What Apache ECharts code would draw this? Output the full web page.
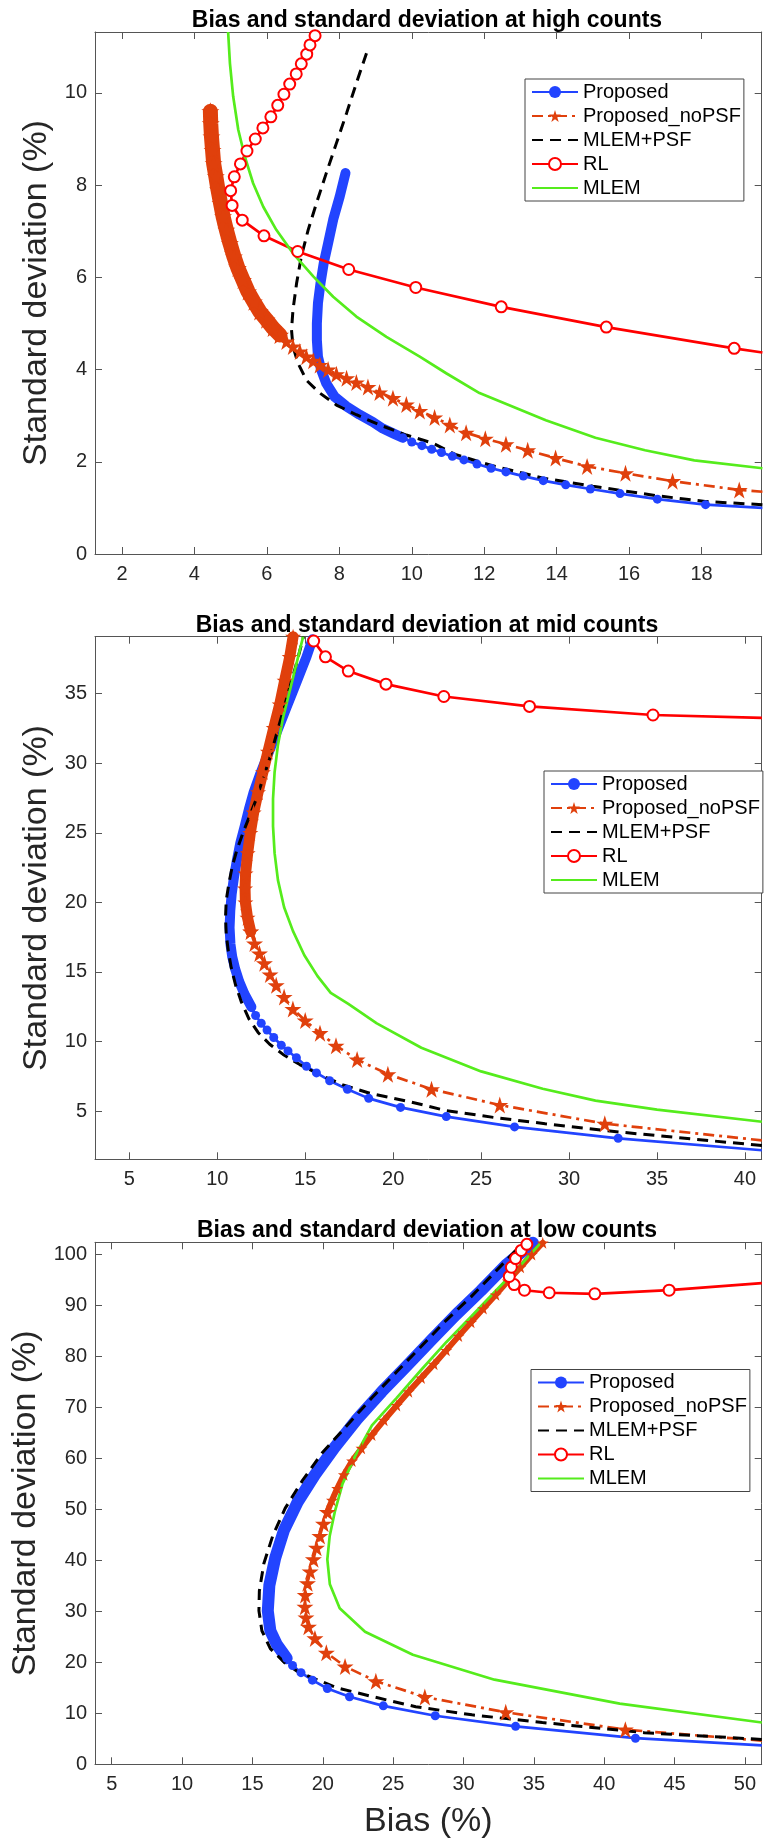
<!DOCTYPE html>
<html><head><meta charset="utf-8">
<script src="https://cdn.jsdelivr.net/npm/echarts@6/dist/echarts.min.js"></script>
<style>html,body{margin:0;padding:0;background:#fff}#c{width:777px;height:1840px}</style>
</head><body><div id="c"></div>
<script>
// ---------- Data ----------
const seriesNames = ['Proposed', 'Proposed_noPSF', 'MLEM+PSF', 'RL', 'MLEM'];
const panelTitles = [
  'Bias and standard deviation at high counts',
  'Bias and standard deviation at mid counts',
  'Bias and standard deviation at low counts'
];
const xAxisName = 'Bias (%)';
const yAxisName = 'Standard deviation (%)';

const highXTicks = [2, 4, 6, 8, 10, 12, 14, 16, 18];
const highYTicks = [0, 2, 4, 6, 8, 10];
const midXTicks = [5, 10, 15, 20, 25, 30, 35, 40];
const midYTicks = [5, 10, 15, 20, 25, 30, 35];
const lowXTicks = [5, 10, 15, 20, 25, 30, 35, 40, 45, 50];
const lowYTicks = [0, 10, 20, 30, 40, 50, 60, 70, 80, 90, 100];

// ---- high counts ----
const highProposed = [[19.68,1.0],[18.11,1.07],[16.78,1.19],[15.75,1.31],[14.93,1.41],[14.25,1.5],[13.63,1.59],[13.08,1.69],[12.6,1.78],[12.19,1.86],[11.8,1.95],[11.44,2.04],[11.12,2.12],[10.82,2.2],[10.55,2.27],[10.28,2.35],[10.0,2.43],[9.75,2.52]];
const highProposedDense = [[9.75,2.52],[9.5,2.61],[9.2,2.72],[8.93,2.86],[8.56,3.02],[8.2,3.2],[7.87,3.41],[7.64,3.7],[7.5,3.99],[7.41,4.28],[7.38,4.64],[7.38,5.0],[7.41,5.44],[7.48,5.87],[7.57,6.31],[7.69,6.74],[7.83,7.25],[8.01,7.75],[8.17,8.26]];
const highNoPsf = [[19.68,1.35],[19.04,1.39],[17.2,1.58],[15.9,1.75],[14.84,1.9],[13.97,2.08],[13.2,2.25],[12.6,2.38],[12.03,2.5],[11.5,2.63],[11.05,2.8],[10.63,2.96],[10.22,3.1],[9.85,3.24],[9.48,3.38],[9.11,3.5],[8.79,3.62],[8.47,3.72],[8.2,3.81],[7.92,3.9],[7.69,4.0],[7.46,4.1],[7.28,4.19],[7.09,4.28],[6.91,4.39],[6.72,4.5],[6.54,4.61],[6.36,4.75]];
const highNoPsfDense = [[6.36,4.75],[6.17,4.9],[5.99,5.08],[5.8,5.26],[5.64,5.47],[5.48,5.69],[5.34,5.94],[5.2,6.2],[5.09,6.45],[4.98,6.74],[4.88,7.03],[4.79,7.32],[4.72,7.61],[4.65,7.9],[4.59,8.19],[4.53,8.47],[4.5,8.76],[4.47,9.05],[4.45,9.34],[4.44,9.6]];
const highMlemPsf = [[19.68,1.07],[18.1,1.14],[16.8,1.26],[15.0,1.47],[13.6,1.65],[12.2,1.92],[11.2,2.16],[10.59,2.4],[9.85,2.58],[9.11,2.8],[8.47,3.02],[7.92,3.23],[7.46,3.49],[7.09,3.77],[6.86,4.14],[6.72,4.5],[6.68,4.86],[6.72,5.29],[6.82,5.87],[6.95,6.45],[7.14,7.03],[7.37,7.61],[7.64,8.26],[7.92,8.91],[8.2,9.56],[8.47,10.21],[8.75,10.86]];
const highRl = [[19.68,4.37],[18.9,4.46],[15.37,4.92],[12.47,5.36],[10.11,5.78],[8.26,6.17],[6.85,6.56],[5.92,6.9],[5.32,7.24],[5.04,7.56],[5.0,7.88],[5.1,8.18],[5.27,8.46],[5.45,8.74],[5.68,9.0],[5.89,9.24],[6.11,9.48],[6.3,9.73],[6.47,9.97],[6.63,10.19],[6.81,10.41],[6.95,10.63],[7.1,10.84],[7.19,11.04],[7.33,11.24]];
const highMlem = [[19.68,1.86],[17.8,2.03],[16.44,2.25],[15.07,2.52],[13.7,2.9],[11.87,3.49],[10.95,3.92],[10.22,4.28],[9.3,4.71],[8.47,5.15],[7.83,5.58],[7.28,6.02],[6.72,6.52],[6.26,7.03],[5.9,7.53],[5.62,8.04],[5.39,8.62],[5.21,9.2],[5.07,9.92],[4.98,10.64],[4.93,11.32]];

// ---- mid counts ----
const midProposed = [[40.96,2.18],[32.79,3.04],[26.9,3.86],[23.02,4.6],[20.42,5.26],[18.61,5.91],[17.4,6.57],[16.39,7.18],[15.64,7.74],[15.07,8.22],[14.5,8.83],[14.02,9.32],[13.64,9.73],[13.21,10.29],[12.83,10.82],[12.5,11.31],[12.18,11.87],[11.94,12.48]];
const midProposedDense = [[11.94,12.48],[11.55,13.4],[11.25,14.3],[11.02,15.2],[10.85,16.1],[10.75,17.0],[10.7,18.2],[10.74,19.4],[10.82,20.6],[10.95,21.8],[11.12,23.05],[11.31,24.27],[11.56,25.48],[11.8,26.7],[12.07,27.92],[12.41,29.13],[12.79,30.35],[13.17,31.56],[13.55,32.78],[13.93,34.0],[14.31,35.21],[14.69,36.43],[15.07,37.64],[15.41,38.91]];
const midNoPsf = [[40.96,2.89],[32.03,4.09],[26.06,5.43],[22.18,6.57],[19.7,7.65],[17.95,8.7],[16.75,9.7],[15.84,10.6],[15.0,11.5],[14.3,12.34],[13.8,13.2],[13.35,14.05],[13.0,14.82],[12.68,15.62],[12.4,16.33],[12.12,17.04],[11.9,17.9]];
const midNoPsfDense = [[11.9,17.9],[11.72,18.9],[11.6,20.0],[11.58,21.0],[11.61,22.08],[11.73,23.54],[11.88,25.0],[12.07,26.46],[12.32,27.92],[12.6,29.37],[12.88,30.83],[13.21,32.54],[13.55,34.24],[13.83,35.94],[14.12,37.64],[14.31,39.1]];
const midMlemPsf = [[40.96,2.52],[37.1,2.98],[32.87,3.49],[28.64,4.09],[25.83,4.52],[23.01,5.03],[20.95,5.67],[18.67,6.28],[17.15,6.88],[15.83,7.61],[14.69,8.34],[13.74,9.07],[12.98,9.8],[12.32,10.65],[11.8,11.63],[11.37,12.84],[11.04,14.06],[10.8,15.27],[10.63,16.49],[10.51,17.7],[10.47,18.92],[10.51,20.14],[10.66,21.35],[10.85,22.57],[11.12,23.78],[11.46,25.0],[11.84,26.21],[12.22,27.43],[12.6,28.89],[12.98,30.35],[13.36,32.05],[13.74,33.75],[14.12,35.45],[14.5,37.15],[14.9,39.1]];
const midRl = [[40.96,33.27],[34.77,33.47],[27.75,34.09],[22.88,34.8],[19.59,35.69],[17.45,36.63],[16.15,37.65],[15.48,38.79]];
const midMlem = [[40.96,4.23],[35.0,5.1],[31.5,5.75],[28.5,6.6],[25.0,7.85],[21.6,9.55],[19.07,11.3],[17.45,12.7],[16.45,13.5],[15.7,14.7],[14.95,16.2],[14.3,17.95],[13.8,19.65],[13.45,21.6],[13.26,23.54],[13.17,25.48],[13.17,27.43],[13.26,29.37],[13.45,31.32],[13.74,33.27],[14.12,35.21],[14.5,37.15],[14.88,39.1]];

// ---- low counts ----
const lowProposed = [[51.2,3.72],[42.22,5.12],[33.7,7.44],[27.99,9.53],[24.3,11.47],[21.9,13.26],[20.32,14.88],[19.26,16.51],[18.45,17.98],[17.85,19.38],[17.43,20.8]];
const lowProposedDense = [[17.43,20.8],[16.73,23.5],[16.27,26.2],[16.09,30.1],[16.2,35.1],[16.62,40.5],[17.25,46.0],[18.2,51.4],[19.44,56.8],[20.85,62.2],[22.43,67.7],[24.19,73.1],[25.95,78.1],[27.71,83.2],[29.47,88.2],[31.23,92.9],[33.0,97.9],[34.93,102.3]];
const lowNoPsf = [[51.2,4.65],[41.5,6.8],[33.0,10.2],[27.25,13.2],[23.77,16.3],[21.58,19.2],[20.25,21.9],[19.44,24.7],[18.98,27.0],[18.8,28.8],[18.73,30.9],[18.75,33.2],[18.91,35.5],[19.1,37.8],[19.33,40.2],[19.55,42.5],[19.79,44.8],[20.05,47.2],[20.32,49.5]];
const lowNoPsfDense = [[20.32,49.5],[20.65,51.8],[21.02,54.1],[21.5,56.8],[22.08,59.5],[22.75,62.0],[23.49,64.6],[24.35,67.5],[25.25,70.4],[26.1,73.1],[27.0,75.8],[27.9,78.5],[28.77,81.2],[29.65,84.0],[30.53,86.7],[31.4,89.4],[32.29,92.1],[33.15,94.8],[34.05,97.5],[34.85,100.0],[35.63,102.3]];
const lowMlemPsf = [[51.2,4.88],[42.85,6.2],[35.6,8.2],[30.6,9.7],[26.6,11.3],[23.5,13.3],[21.0,15.0],[19.5,16.7],[18.2,18.2],[17.3,19.9],[16.27,22.7],[15.67,26.2],[15.46,30.1],[15.49,34.0],[15.81,39.4],[16.44,44.8],[17.32,50.2],[18.56,55.7],[19.96,61.1],[21.73,66.5],[23.49,71.9],[25.25,77.0],[27.0,82.0],[28.77,87.1],[30.53,91.7],[32.29,96.7],[34.05,101.8]];
const lowRl = [[51.2,94.4],[44.61,93.0],[39.33,92.3],[36.09,92.5],[34.33,93.0],[33.6,94.1],[33.25,95.7],[33.4,97.5],[33.7,99.2],[34.1,100.8],[34.5,102.0]];
const lowMlem = [[51.2,8.2],[41.1,11.9],[32.2,16.6],[26.4,21.5],[23.0,26.0],[21.2,30.6],[20.5,35.3],[20.32,40.2],[20.49,44.8],[20.85,49.5],[21.4,55.0],[22.3,60.5],[23.49,66.5],[25.25,71.9],[27.0,77.4],[28.77,82.8],[30.53,87.8],[32.29,92.9],[34.05,97.9],[35.46,102.2]];

// ---------- Layout & style ----------
const FONT = "'Liberation Sans', Arial, Helvetica, sans-serif";
const AX = '#555';
const TXT = '#262626';
const C_BLUE = '#2244ff', C_ORANGE = '#e0400c', C_BLACK = '#000000', C_RED = '#ff0000', C_GREEN = '#55ec1c';
const STAR = 'path://M50,0 L61.2,34.5 L97.6,34.5 L68.2,55.9 L79.4,90.5 L50,69.1 L20.6,90.5 L31.8,55.9 L2.4,34.5 L38.8,34.5 Z';
const LW = 2.7;

const panels = [
  { title: panelTitles[0], xr: [1.255, 19.66], yr: [0, 11.32], xt: highXTicks, yt: highYTicks,
    top: 32, h: 522, titleTop: 4, legend: [525, 79], yGap: 38, xName: '',
    d: [highProposed, highProposedDense, highNoPsf, highNoPsfDense, highMlemPsf, highRl, highMlem],
    blueDenseW: 10, starDenseW: 15, starDenseS: 18 },
  { title: panelTitles[1], xr: [3.05, 40.95], yr: [1.53, 39.1], xt: midXTicks, yt: midYTicks,
    top: 636.7, h: 522.6, titleTop: 609, legend: [544, 771], yGap: 38, xName: '',
    d: [midProposed, midProposedDense, midNoPsf, midNoPsfDense, midMlemPsf, midRl, midMlem],
    blueDenseW: 10, starDenseW: 11, starDenseS: 16 },
  { title: panelTitles[2], xr: [3.81, 51.19], yr: [0, 102.4], xt: lowXTicks, yt: lowYTicks,
    top: 1242.3, h: 522, titleTop: 1214, legend: [531, 1369.5], yGap: 50, xName: xAxisName,
    d: [lowProposed, lowProposedDense, lowNoPsf, lowNoPsfDense, lowMlemPsf, lowRl, lowMlem],
    blueDenseW: 12, starDenseW: 6, starDenseS: 12 }
];

const edge = arr => arr.map((p, i) => i === 0 ? { value: p, symbol: 'none' } : p);
const legendData = seriesNames.map((n, i) => (i === 2 || i === 4) ? { name: n, itemStyle: { opacity: 0 } } : { name: n });

const grid = [], xAxis = [], yAxis = [], series = [], title = [], legend = [];
panels.forEach((p, i) => {
  grid.push({ left: 95, width: 666.7, top: p.top, height: p.h });
  const tickBase = { inside: true, length: 7, lineStyle: { color: AX, width: 1 } };
  const lineBase = { onZero: false, lineStyle: { color: AX, width: 1 } };
  xAxis.push({
    type: 'value', gridIndex: i, min: p.xr[0], max: p.xr[1], position: 'bottom',
    axisLine: lineBase, axisTick: Object.assign({ customValues: p.xt }, tickBase),
    axisLabel: { customValues: p.xt, fontSize: 20, color: TXT, margin: 10, fontFamily: FONT },
    splitLine: { show: false },
    name: p.xName, nameLocation: 'middle', nameGap: 40,
    nameTextStyle: { fontSize: 34, color: TXT, fontFamily: FONT }
  });
  xAxis.push({
    type: 'value', gridIndex: i, min: p.xr[0], max: p.xr[1], position: 'top',
    axisLine: lineBase, axisTick: Object.assign({ customValues: p.xt }, tickBase),
    axisLabel: { show: false }, splitLine: { show: false }
  });
  yAxis.push({
    type: 'value', gridIndex: i, min: p.yr[0], max: p.yr[1], position: 'left',
    axisLine: lineBase, axisTick: Object.assign({ customValues: p.yt }, tickBase),
    axisLabel: { customValues: p.yt, fontSize: 20, color: TXT, margin: 8, fontFamily: FONT },
    splitLine: { show: false },
    name: yAxisName, nameLocation: 'middle', nameGap: p.yGap,
    nameTextStyle: { fontSize: 34, color: TXT, fontFamily: FONT }
  });
  yAxis.push({
    type: 'value', gridIndex: i, min: p.yr[0], max: p.yr[1], position: 'right',
    axisLine: lineBase, axisTick: Object.assign({ customValues: p.yt }, tickBase),
    axisLabel: { show: false }, splitLine: { show: false }
  });
  title.push({
    text: p.title, left: 422, top: p.titleTop, textAlign: 'center',
    textStyle: { fontSize: 23, fontWeight: 'bold', color: '#000', fontFamily: FONT }
  });
  legend.push({
    orient: 'vertical', left: p.legend[0], top: p.legend[1],
    itemWidth: 46, itemHeight: 15, itemGap: 4, padding: [3, 3, 3, 6],
    borderColor: '#444', borderWidth: 1, backgroundColor: '#fff',
    textStyle: { fontSize: 20, color: '#000', fontFamily: FONT, lineHeight: 20 },
    data: legendData, selectedMode: false
  });
  const ax = { xAxisIndex: i * 2, yAxisIndex: i * 2, clip: true, animation: false, silent: true };
  const [dProp, dPropD, dNo, dNoD, dPsf, dRl, dMlem] = p.d;
  series.push(Object.assign({
    type: 'line', name: seriesNames[0], data: edge(dProp),
    symbol: 'circle', symbolSize: 9, itemStyle: { color: C_BLUE },
    lineStyle: { color: C_BLUE, width: LW }
  }, ax));
  series.push(Object.assign({
    type: 'line', name: seriesNames[0], data: dPropD, symbol: 'none',
    itemStyle: { color: C_BLUE },
    lineStyle: { color: C_BLUE, width: p.blueDenseW, cap: 'round', join: 'round' }
  }, ax));
  series.push(Object.assign({
    type: 'line', name: seriesNames[1], data: edge(dNo),
    symbol: STAR, symbolSize: 17, itemStyle: { color: C_ORANGE },
    lineStyle: { color: C_ORANGE, width: LW, type: [11, 5, 3, 5] }
  }, ax));
  series.push(Object.assign({
    type: 'line', name: seriesNames[1], data: dNoD,
    symbol: STAR, symbolSize: p.starDenseS, itemStyle: { color: C_ORANGE },
    lineStyle: { color: C_ORANGE, width: p.starDenseW, cap: 'round', join: 'round' }
  }, ax));
  series.push(Object.assign({
    type: 'line', name: seriesNames[2], data: dPsf, symbol: 'none',
    itemStyle: { color: C_BLACK },
    lineStyle: { color: C_BLACK, width: 3, type: [11, 7] }
  }, ax));
  series.push(Object.assign({
    type: 'line', name: seriesNames[3], data: edge(dRl),
    symbol: 'emptyCircle', symbolSize: 11,
    itemStyle: { color: C_RED, borderColor: C_RED, borderWidth: 2.2 },
    lineStyle: { color: C_RED, width: LW }
  }, ax));
  series.push(Object.assign({
    type: 'line', name: seriesNames[4], data: dMlem, symbol: 'none',
    itemStyle: { color: C_GREEN },
    lineStyle: { color: C_GREEN, width: LW }
  }, ax));
});

const chart = echarts.init(document.getElementById('c'), null, { renderer: 'canvas' });
chart.setOption({
  animation: false,
  backgroundColor: '#fff',
  textStyle: { fontFamily: FONT },
  title, legend, grid, xAxis, yAxis, series
});
</script></body></html>
